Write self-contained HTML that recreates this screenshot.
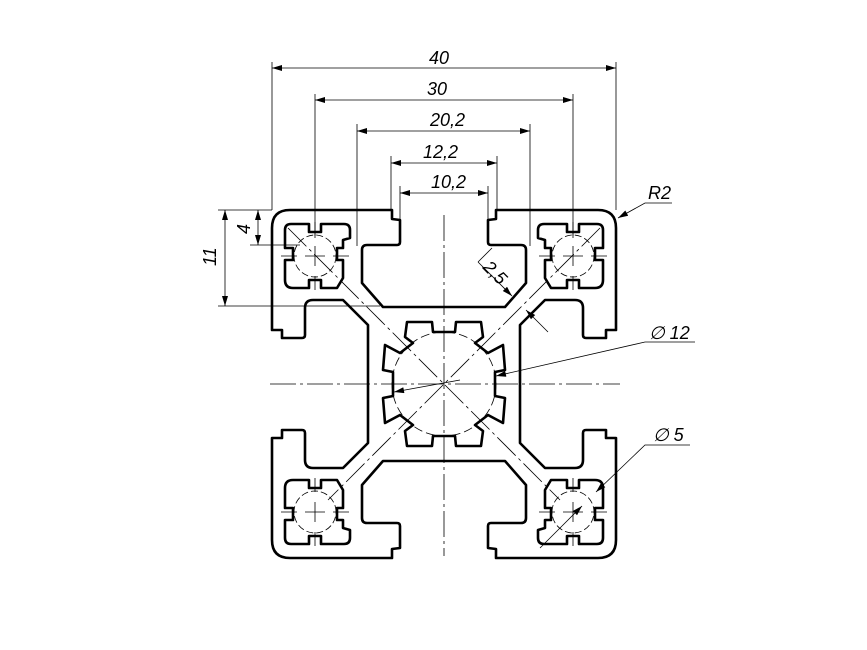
<!DOCTYPE html>
<html><head><meta charset="utf-8"><style>
html,body{margin:0;padding:0;background:#fff}
svg{display:block}
text{font-family:"Liberation Sans",sans-serif;font-style:italic;font-size:18px;fill:#000}
</style></head><body>
<svg width="867" height="650" viewBox="0 0 867 650" xmlns="http://www.w3.org/2000/svg">
<defs>
<marker id="a" viewBox="0 0 10 6" refX="10" refY="3" markerWidth="12" markerHeight="6" orient="auto-start-reverse" markerUnits="userSpaceOnUse"><path d="M0,0 L10,3 L0,6 Z" fill="#000"/></marker>
<g id="q">
<path d="M0,-77 L-61,-77 L-82,-101 L-82,-134 Q-82,-139 -77,-139 L-47,-139 Q-44,-139 -44,-142 L-44,-164 L-52,-165 L-52,-174 L-154,-174 Q-172,-174 -172,-156 L-172,-54 L-162,-54 L-162,-46 L-142,-46 Q-139,-46 -139,-49 L-139,-76 Q-139,-84 -131,-84 L-101,-84 L-76,-59 L-76,0" fill="none" stroke="#000" stroke-width="2.6" stroke-linejoin="round"/>
<path d="M0,-52 L-11,-52 L-12,-62 L-37,-62 L-39,-47 L-31,-41 L-44,-31 L-59,-39 L-61,-14 L-51,-12 L-51,0" fill="none" stroke="#000" stroke-width="2.6" stroke-linejoin="round"/>
<g transform="translate(-129,-130)">
<path d="M-24,-30 L-6,-30 L-6,-22 L6,-22 L6,-30 L29,-30 Q35,-30 35,-24 L35,-16 L28,-14 L28,-6 L22,-6 L22,6 L28,6 L28,24 L22,34 L6,34 L6,26 L-6,26 L-6,34 L-22,34 Q-30,34 -30,26 L-30,6 L-22,6 L-22,-6 L-30,-6 L-30,-24 Q-30,-30 -24,-30 Z" fill="none" stroke="#000" stroke-width="2.6" stroke-linejoin="round"/>
<circle cx="0" cy="2" r="21" fill="none" stroke="#000" stroke-width="0.8" stroke-dasharray="7,3"/>
<path d="M-34,2 H-18 M-10,2 H10 M18,2 H34 M0,-32 V-18 M0,-8 V12 M0,22 V36" stroke="#000" stroke-width="0.8"/>
</g>
</g>
</defs>
<g transform="translate(444,384)">
<use href="#q"/>
<use href="#q" transform="scale(-1,1)"/>
<use href="#q" transform="scale(1,-1)"/>
<use href="#q" transform="scale(-1,-1)"/>
<circle cx="0" cy="0" r="52" fill="none" stroke="#000" stroke-width="0.8" stroke-dasharray="9,4"/>
</g>
<g stroke="#000" stroke-width="0.8" fill="none">
<path d="M270,384 H620" stroke-dasharray="26,4,3,4"/>
<path d="M444,215 V556" stroke-dasharray="26,4,3,4"/>
<path d="M288,228 L560,500 M600,228 L328,500" stroke-dasharray="26,4,3,4"/>
<path d="M272,62 V210 M616,62 V210 M315,94 V238 M573,94 V238 M357,124 V246 M530,124 V246 M391,156 V210 M497,156 V210 M400,186 V220 M488,186 V220"/>
<path d="M218,210 H272 M218,306 H380 M250,245 H300"/>
<path d="M272,68 H616" marker-start="url(#a)" marker-end="url(#a)"/>
<path d="M315,100 H573" marker-start="url(#a)" marker-end="url(#a)"/>
<path d="M357,131 H530" marker-start="url(#a)" marker-end="url(#a)"/>
<path d="M391,163 H497" marker-start="url(#a)" marker-end="url(#a)"/>
<path d="M400,193 H488" marker-start="url(#a)" marker-end="url(#a)"/>
<path d="M225,210 V306" marker-start="url(#a)" marker-end="url(#a)"/>
<path d="M258,210 V245" marker-start="url(#a)" marker-end="url(#a)"/>
<path d="M478,262 L512,296" marker-end="url(#a)"/>
<path d="M548,332 L526,310" marker-end="url(#a)"/>
<path d="M478,262 L492,248"/>
<path d="M672,203 H645 L618,218" marker-end="url(#a)"/>
<path d="M695,342 H645 L496,376" marker-end="url(#a)"/>
<path d="M460,380 L394,392" marker-end="url(#a)"/>
<path d="M690,445 H645 L596,492" marker-end="url(#a)"/>
<path d="M562,526 L540,548" />
<path d="M582,506 L562,526" marker-start="url(#a)"/>
</g>
<text x="429" y="64">40</text>
<text x="427" y="95">30</text>
<text x="430" y="126">20,2</text>
<text x="423" y="158">12,2</text>
<text x="431" y="188">10,2</text>
<text x="0" y="0" transform="translate(216,266) rotate(-90)">11</text>
<text x="0" y="0" transform="translate(250,234) rotate(-90)">4</text>
<text x="0" y="0" transform="translate(482,268) rotate(45)">2,5</text>
<text x="648" y="199">R2</text>
<text x="649" y="339">∅ 12</text>
<text x="653" y="441">∅ 5</text>
</svg>
</body></html>
